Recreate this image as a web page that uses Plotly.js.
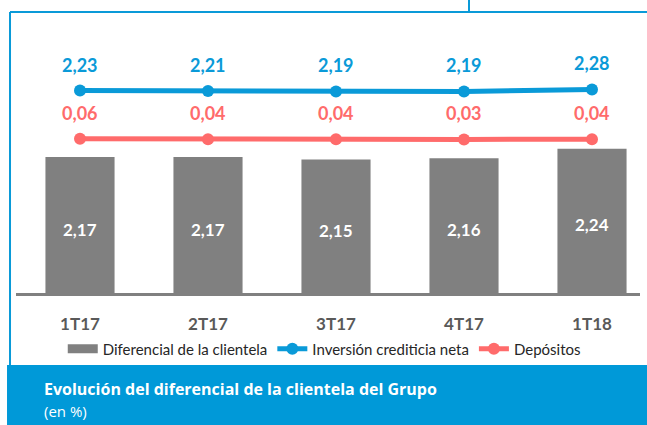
<!DOCTYPE html>
<html>
<head>
<meta charset="utf-8">
<script src="https://cdn.plot.ly/plotly-3.0.1.min.js"></script>
<style>
  html, body { margin: 0; padding: 0; background: #ffffff; }
  #graph { width: 647px; height: 425px; }
</style>
</head>
<body>
<div id="graph"></div>
<script>
// Data
const quarters = ['1T17', '2T17', '3T17', '4T17', '1T18'];
const diferencial = [2.17, 2.17, 2.15, 2.16, 2.24];
const inversion = [2.23, 2.21, 2.19, 2.19, 2.28];
const depositos = [0.06, 0.04, 0.04, 0.03, 0.04];

const BLUE = '#0a9ad8';
const RED = '#ff6b6b';
const GREY = '#808080';
const FONT = 'Lato, "Open Sans", sans-serif';
const BAR_AXIS_MIN = 1.03;

const fmt = v => v.toFixed(2).replace('.', ',');

const barTrace = {
    x: quarters,
    y: diferencial,
    type: 'bar',
    width: 0.54,
    marker: { color: GREY },
    showlegend: false,
    name: 'Diferencial de la clientela'
};

// legend entry for the bars (wide flat swatch like the original)
const barLegend = {
    x: [null],
    y: [null],
    type: 'scatter',
    mode: 'lines',
    line: { color: GREY, width: 9 },
    name: 'Diferencial de la clientela'
};

const invTrace = {
    x: quarters,
    y: inversion,
    yaxis: 'y2',
    type: 'scatter',
    mode: 'lines+markers',
    line: { color: BLUE, width: 5 },
    marker: { color: BLUE, size: 12 },
    cliponaxis: false,
    name: 'Inversión crediticia neta'
};

const depTrace = {
    x: quarters,
    y: depositos,
    yaxis: 'y2',
    type: 'scatter',
    mode: 'lines+markers',
    line: { color: RED, width: 5 },
    marker: { color: RED, size: 12 },
    cliponaxis: false,
    name: 'Depósitos'
};

const annotations = [];
quarters.forEach((q, i) => {
    // value labels over the line markers
    annotations.push({
        x: q, y: inversion[i], xref: 'x', yref: 'y2',
        text: fmt(inversion[i]), showarrow: false, yshift: 26,
        font: { family: FONT, size: 18, color: BLUE, weight: 'bold' }
    });
    annotations.push({
        x: q, y: depositos[i], xref: 'x', yref: 'y2',
        text: fmt(depositos[i]), showarrow: false, yshift: 26,
        font: { family: FONT, size: 18, color: RED, weight: 'bold' }
    });
    // label in the middle of the visible bar
    annotations.push({
        x: q, y: (diferencial[i] + BAR_AXIS_MIN) / 2, xref: 'x', yref: 'y',
        text: fmt(diferencial[i]), showarrow: false, yshift: -4,
        font: { family: FONT, size: 17, color: '#ffffff', weight: 'bold' }
    });
});

// caption in the blue band
annotations.push({
    xref: 'paper', yref: 'paper', x: 0.0417, y: -0.352,
    xanchor: 'left', yanchor: 'middle', showarrow: false,
    text: 'Evolución del diferencial de la clientela del Grupo',
    font: { family: '"Open Sans", sans-serif', size: 16, color: '#ffffff', weight: 'bold' }
});
annotations.push({
    xref: 'paper', yref: 'paper', x: 0.0417, y: -0.434,
    xanchor: 'left', yanchor: 'middle', showarrow: false,
    text: '(en %)',
    font: { family: '"Open Sans", sans-serif', size: 15, color: '#ffffff' }
});

const shapes = [
    // blue band
    { type: 'rect', xref: 'paper', yref: 'paper', x0: -0.0144, x1: 1.05, y0: -0.6, y1: -0.2637,
      fillcolor: '#0099d8', line: { width: 0 }, layer: 'below' },
    // frame lines
    { type: 'line', xref: 'paper', yref: 'paper', x0: -0.0096, x1: -0.0096, y0: -0.2637, y1: 1.0293,
      line: { color: BLUE, width: 2 } },
    { type: 'line', xref: 'paper', yref: 'paper', x0: -0.0096, x1: 1.05, y0: 1.0293, y1: 1.0293,
      line: { color: BLUE, width: 2 } },
    { type: 'line', xref: 'paper', yref: 'paper', x0: 0.726, x1: 0.726, y0: 1.0293, y1: 1.08,
      line: { color: BLUE, width: 2 } }
];

const layout = {
    width: 647,
    height: 425,
    margin: { l: 16, r: 7, t: 20, b: 132 },
    paper_bgcolor: '#ffffff',
    plot_bgcolor: '#ffffff',
    showlegend: true,
    font: { family: FONT },
    xaxis: {
        type: 'category',
        range: [-0.5, 4.375],
        showline: true,
        linecolor: GREY,
        linewidth: 3,
        ticks: '',
        ticklabelstandoff: 14,
        tickfont: { family: FONT, size: 17, color: '#595959', weight: 'bold' },
        showgrid: false,
        zeroline: false,
        fixedrange: true
    },
    yaxis: {
        range: [BAR_AXIS_MIN, 3.32],
        visible: false,
        showgrid: false,
        zeroline: false
    },
    yaxis2: {
        overlaying: 'y',
        range: [-6.89, 5.41],
        visible: false,
        showgrid: false,
        zeroline: false
    },
    legend: {
        orientation: 'h',
        x: 0.494,
        xanchor: 'center',
        y: -0.205,
        yanchor: 'middle',
        font: { family: FONT, size: 15, color: '#262626' },
        bgcolor: 'rgba(0,0,0,0)',
        itemclick: false
    },
    annotations: annotations,
    shapes: shapes
};

Plotly.newPlot('graph', [barTrace, barLegend, invTrace, depTrace], layout, { displayModeBar: false, staticPlot: true });
</script>
</body>
</html>
